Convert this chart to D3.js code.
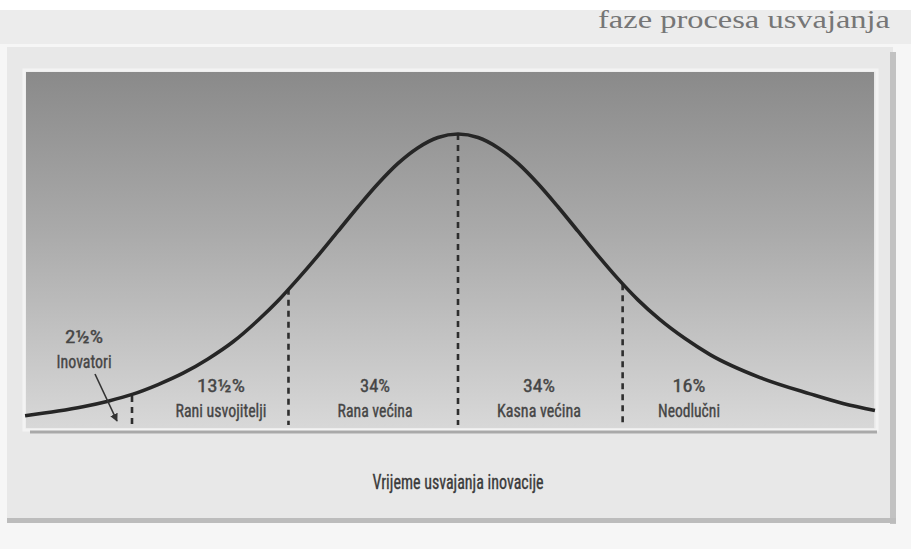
<!DOCTYPE html>
<html>
<head>
<meta charset="utf-8">
<script src="https://cdn.jsdelivr.net/npm/d3@7"></script>
<style>
  html, body { margin: 0; padding: 0; background: #ffffff; }
  svg { display: block; }
</style>
</head>
<body>
<div id="chart"></div>
<script>
// ---- data ----
// time of adoption in standard-deviation units, relative adopter density (peak = 1)
const curveTime    = [-2.656, -2.454, -2.301, -2.147, -1.994, -1.840, -1.687, -1.534, -1.380, -1.227, -1.104, -0.982, -0.859, -0.736, -0.613, -0.491, -0.368, -0.245, -0.123, 0.000,
                      0.123, 0.245, 0.368, 0.491, 0.613, 0.736, 0.859, 0.982, 1.104, 1.239, 1.393, 1.546, 1.853, 2.160, 2.362, 2.558];
const curveDensity = [0.032, 0.048, 0.063, 0.082, 0.106, 0.139, 0.178, 0.227, 0.286, 0.360, 0.427, 0.502, 0.582, 0.666, 0.750, 0.829, 0.899, 0.953, 0.988, 1.000,
                      0.988, 0.953, 0.899, 0.829, 0.750, 0.666, 0.582, 0.502, 0.430, 0.362, 0.297, 0.242, 0.163, 0.107, 0.074, 0.050];

// category boundaries (dashed lines) and the curve height there
const boundaryTime    = [-2.00, -1.04, 0.00, 1.01];
const boundaryDensity = [0.100, 0.468, 1.000, 0.484];

// categories
const shares     = ["2½%", "13½%", "34%", "34%", "16%"];
const categories = ["Inovatori", "Rani usvojitelji", "Rana većina", "Kasna većina", "Neodlučni"];
const labelTime  = [-2.294, -1.454, -0.509, 0.497, 1.417];

const xTitle = "Vrijeme usvajanja inovacije";
const pageHeading = "faze procesa usvajanja";

// ---- layout ----
const W = 911, H = 549;
const svg = d3.select("#chart").append("svg").attr("width", W).attr("height", H);

const x = d3.scaleLinear().domain([-3, 3]).range([458 - 3 * 163, 458 + 3 * 163]);
const y = d3.scaleLinear().domain([0, 1]).range([425, 134]);

// paper
svg.append("rect").attr("x", 0).attr("y", 0).attr("width", W).attr("height", H).attr("fill", "#f6f6f6");
svg.append("rect").attr("x", 0).attr("y", 0).attr("width", W).attr("height", 10).attr("fill", "#ffffff");
svg.append("rect").attr("x", 0).attr("y", 10).attr("width", W).attr("height", 34).attr("fill", "#ececec");

svg.append("text")
  .attr("x", 598).attr("y", 28)
  .attr("font-family", "'Liberation Serif', 'DejaVu Serif', serif")
  .attr("font-size", 25)
  .attr("fill", "#767676")
  .attr("textLength", 292).attr("lengthAdjust", "spacingAndGlyphs")
  .text(pageHeading);

// outer frame
svg.append("rect").attr("x", 7).attr("y", 47).attr("width", 886).attr("height", 474).attr("fill", "#e8e8e8");
svg.append("rect").attr("x", 890).attr("y", 52).attr("width", 6).attr("height", 472).attr("fill", "#c2c2c2");
svg.append("rect").attr("x", 7).attr("y", 518).attr("width", 889).attr("height", 5).attr("fill", "#bcbcbc");

// panel gradient
const defs = svg.append("defs");
const grad = defs.append("linearGradient").attr("id", "panelGrad")
  .attr("x1", 0).attr("y1", 0).attr("x2", 0).attr("y2", 1);
grad.append("stop").attr("offset", "0%").attr("stop-color", "#8a8a8a");
grad.append("stop").attr("offset", "45%").attr("stop-color", "#aaaaaa");
grad.append("stop").attr("offset", "100%").attr("stop-color", "#d8d8d8");

svg.append("rect").attr("x", 24).attr("y", 70).attr("width", 853).attr("height", 360)
  .attr("fill", "none").attr("stroke", "#f3f3f3").attr("stroke-width", 3);
svg.append("rect").attr("x", 26).attr("y", 72).attr("width", 848).attr("height", 356)
  .attr("fill", "url(#panelGrad)");
svg.append("line").attr("x1", 30).attr("x2", 877).attr("y1", 432).attr("y2", 432)
  .attr("stroke", "#a9a9a9").attr("stroke-width", 3);

// dashed boundaries
svg.append("g").selectAll("line").data(boundaryTime).join("line")
  .attr("x1", d => x(d)).attr("x2", d => x(d))
  .attr("y1", (d, i) => y(boundaryDensity[i])).attr("y2", y(0))
  .attr("stroke", "#2e2e2e").attr("stroke-width", 2.6)
  .attr("stroke-dasharray", "6,5");

// curve
const pts = curveTime.map((t, i) => [t, curveDensity[i]]);
svg.append("path").datum(pts)
  .attr("fill", "none").attr("stroke", "#262626").attr("stroke-width", 3.6)
  .attr("stroke-linecap", "butt")
  .attr("d", d3.line().x(d => x(d[0])).y(d => y(d[1])).curve(d3.curveMonotoneX));

// labels
const font = "'Liberation Sans Narrow', 'Roboto Condensed', 'Liberation Sans', sans-serif";
const pctY  = [343, 392, 392, 392, 392];
const nameY = [368, 417, 417, 417, 417];
const pctW  = [38, 48, 30, 32, 33];
const nameW = [55, 91, 75, 84, 62];

const lab = svg.append("g").attr("font-family", font).attr("fill", "#454545")
  .attr("stroke", "#454545").attr("stroke-width", 0.35).attr("text-anchor", "middle");
lab.selectAll("text.pct").data(shares).join("text").attr("class", "pct")
  .attr("x", (d, i) => x(labelTime[i])).attr("y", (d, i) => pctY[i])
  .attr("font-size", 18)
  .attr("textLength", (d, i) => pctW[i]).attr("lengthAdjust", "spacingAndGlyphs")
  .text(d => d);
lab.selectAll("text.name").data(categories).join("text").attr("class", "name")
  .attr("x", (d, i) => x(labelTime[i])).attr("y", (d, i) => nameY[i])
  .attr("font-size", 18)
  .attr("textLength", (d, i) => nameW[i]).attr("lengthAdjust", "spacingAndGlyphs")
  .text(d => d);

// arrow from "Inovatori" to the tail
defs.append("marker").attr("id", "arrowHead")
  .attr("viewBox", "0 0 10 10").attr("refX", 9).attr("refY", 5)
  .attr("markerWidth", 5).attr("markerHeight", 5).attr("orient", "auto")
  .append("path").attr("d", "M0,0 L10,5 L0,10 z").attr("fill", "#333");
svg.append("line")
  .attr("x1", 95).attr("y1", 374).attr("x2", 117).attr("y2", 421)
  .attr("stroke", "#333").attr("stroke-width", 1.6)
  .attr("marker-end", "url(#arrowHead)");

// x title
svg.append("text")
  .attr("x", 458).attr("y", 489)
  .attr("text-anchor", "middle")
  .attr("font-family", font).attr("font-size", 20).attr("fill", "#3a3a3a")
  .attr("stroke", "#3a3a3a").attr("stroke-width", 0.35)
  .attr("textLength", 171).attr("lengthAdjust", "spacingAndGlyphs")
  .text(xTitle);
</script>
</body>
</html>
